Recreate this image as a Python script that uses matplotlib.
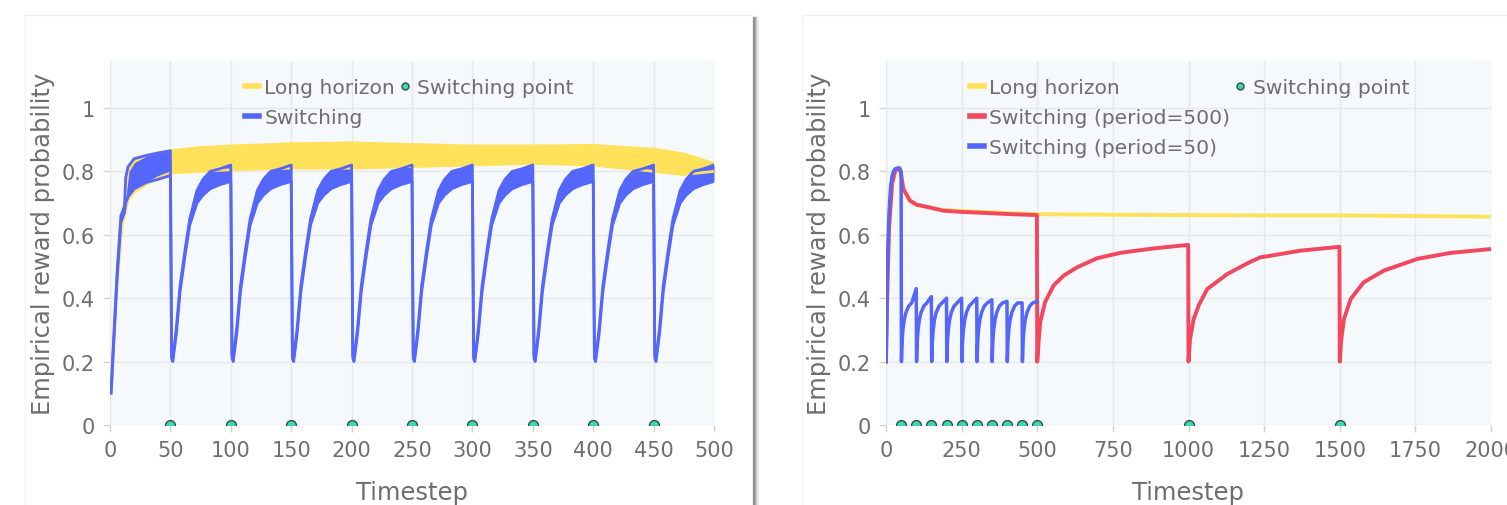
import numpy as np
import matplotlib
matplotlib.use("Agg")
import matplotlib.pyplot as plt
from matplotlib.lines import Line2D

plt.rcParams['font.family'] = ['DejaVu Sans']

# ---------------------------------------------------------------
# data
# ---------------------------------------------------------------

# left panel: horizon 500, switching every 50 steps
lh_t = [1, 5, 10, 12, 15, 20, 30, 40, 50, 75, 100, 150, 200, 250, 300, 350, 400, 450, 475, 500]
lh_lo = [0.10, 0.40, 0.63, 0.66, 0.71, 0.735, 0.76, 0.78, 0.795, 0.80, 0.805, 0.81, 0.81, 0.815, 0.82, 0.825, 0.82, 0.80, 0.79, 0.80]
lh_hi = [0.12, 0.42, 0.65, 0.70, 0.80, 0.83, 0.85, 0.86, 0.865, 0.875, 0.88, 0.887, 0.89, 0.885, 0.88, 0.88, 0.882, 0.87, 0.855, 0.825]

# first 50 steps of the switching agent
sw_first_t = [1, 3, 6, 9, 12, 13, 15, 20, 30, 40, 50]
sw_first_lo = [0.10, 0.25, 0.47, 0.64, 0.67, 0.70, 0.72, 0.745, 0.765, 0.775, 0.787]
sw_first_hi = [0.12, 0.27, 0.49, 0.66, 0.69, 0.78, 0.815, 0.84, 0.85, 0.858, 0.865]

# one recovery cycle after a switch (offset from the switch)
sw_cycle_off = [1, 2, 3, 5, 8, 12, 16, 22, 27, 33, 41, 50]
sw_cycle_lo = [0.21, 0.20, 0.23, 0.29, 0.42, 0.53, 0.63, 0.70, 0.725, 0.745, 0.758, 0.768]
sw_cycle_hi = [0.22, 0.21, 0.24, 0.31, 0.44, 0.55, 0.65, 0.74, 0.775, 0.80, 0.808, 0.82]
left_switches = [50, 100, 150, 200, 250, 300, 350, 400, 450]

# right panel: horizon 2000
r_lh_t = [0, 5, 10, 20, 30, 40, 45, 50, 57, 79, 100, 135, 189, 250, 300, 411, 500, 750, 1000, 1250, 1500, 1750, 2000]
r_lh_v = [0.20, 0.45, 0.62, 0.76, 0.80, 0.81, 0.81, 0.79, 0.745, 0.708, 0.695, 0.688, 0.678, 0.675, 0.673, 0.668, 0.665, 0.663, 0.662, 0.661, 0.661, 0.659, 0.657]

r_p500_t = [0, 5, 10, 20, 30, 40, 45, 50, 57, 79, 100, 135, 189, 250, 300, 411, 499,
            500, 505, 510, 526, 554, 587, 631, 698, 775, 885, 999,
            1000, 1005, 1017, 1035, 1062, 1128, 1205, 1238, 1272, 1371, 1499,
            1500, 1505, 1514, 1536, 1579, 1646, 1757, 1868, 2000]
r_p500_v = [0.20, 0.45, 0.62, 0.76, 0.80, 0.81, 0.81, 0.79, 0.745, 0.708, 0.695, 0.688, 0.676, 0.672, 0.670, 0.665, 0.662,
            0.20, 0.27, 0.325, 0.388, 0.44, 0.471, 0.497, 0.526, 0.543, 0.557, 0.568,
            0.20, 0.27, 0.334, 0.38, 0.429, 0.476, 0.515, 0.529, 0.534, 0.55, 0.562,
            0.20, 0.27, 0.334, 0.397, 0.45, 0.487, 0.524, 0.543, 0.555]

r_p50_first_t = [0, 3, 6, 10, 15, 20, 25, 30, 40, 45, 50]
r_p50_first_v = [0.20, 0.40, 0.55, 0.67, 0.75, 0.785, 0.80, 0.808, 0.81, 0.808, 0.80]
r_p50_cycle_off = [1, 3, 6, 10, 16, 25, 35, 50]
r_p50_cycle_v = [0.20, 0.26, 0.30, 0.33, 0.355, 0.375, 0.385, 0.395]
r_p50_peaks = [0.43, 0.405, 0.40, 0.40, 0.40, 0.395, 0.39, 0.385, 0.39]
r_p50_switches = [50, 100, 150, 200, 250, 300, 350, 400, 450]

right_switch_points = [50, 100, 150, 200, 250, 300, 350, 400, 450, 500, 1000, 1500]

y_ticks = [0, 0.2, 0.4, 0.6, 0.8, 1.0]
y_tick_labels = ['0', '0.2', '0.4', '0.6', '0.8', '1']
left_x_ticks = [0, 50, 100, 150, 200, 250, 300, 350, 400, 450, 500]
right_x_ticks = [0, 250, 500, 750, 1000, 1250, 1500, 1750, 2000]

# ---------------------------------------------------------------
# style
# ---------------------------------------------------------------
YELLOW = '#FFE15A'
BLUE = '#5566FA'
RED = '#F2475F'
TEAL = '#3ED6AE'
TXT = '#6e6e6e'
GRID = '#e6e9ec'
BG = '#f6f9fb'


def style_axes(ax, xmax, xticks):
    ax.set_facecolor(BG)
    ax.set_xlim(0, xmax)
    ax.set_ylim(0, 1.148)
    ax.set_xticks(xticks)
    ax.set_yticks(y_ticks)
    ax.set_yticklabels(y_tick_labels)
    ax.grid(True, color=GRID, lw=1)
    ax.set_axisbelow(True)
    for s in ax.spines.values():
        s.set_visible(False)
    ax.tick_params(colors='#d0d0d0', labelcolor=TXT, labelsize=15, length=5, width=1, pad=6)
    ax.set_xlabel('Timestep', fontsize=17.5, color=TXT, labelpad=14)
    ax.set_ylabel('Empirical reward probability', fontsize=17.5, color=TXT, labelpad=5)


def band(ax, t, lo, hi, color):
    ax.fill_between(t, lo, hi, color=color, lw=0)
    ax.plot(t, lo, color=color, lw=2)
    ax.plot(t, hi, color=color, lw=2)


fig = plt.figure(figsize=(15.07, 5.06), dpi=100)

legend_kw = dict(ncol=2, loc='upper left', frameon=False, fontsize=14.6, labelcolor=TXT,
                 handlelength=0.7, handletextpad=0.25, columnspacing=0.15,
                 labelspacing=0.55, borderpad=0, borderaxespad=0)

# ---- left panel ----
axL = fig.add_axes([110 / 1507, 80 / 506, 604 / 1507, 364 / 506])
style_axes(axL, 500, left_x_ticks)

band(axL, lh_t, lh_lo, lh_hi, YELLOW)

sw_t = list(sw_first_t)
sw_lo = list(sw_first_lo)
sw_hi = list(sw_first_hi)
for s in left_switches:
    sw_t += [s + o for o in sw_cycle_off]
    sw_lo += sw_cycle_lo
    sw_hi += sw_cycle_hi
band(axL, sw_t, sw_lo, sw_hi, BLUE)

axL.scatter(left_switches, [0] * len(left_switches), s=50, color=TEAL,
            edgecolor='#2f4f4f', lw=1, zorder=5)

hL = [Line2D([], [], color=YELLOW, lw=4),
      Line2D([], [], color=BLUE, lw=4),
      Line2D([], [], ls='', marker='o', ms=5, mfc=TEAL, mec='#2f4f4f', mew=1)]
axL.legend(hL, ['Long horizon', 'Switching', 'Switching point'],
           bbox_to_anchor=(0.2235, 0.953), **legend_kw)

# ---- right panel ----
axR = fig.add_axes([886 / 1507, 80 / 506, 605 / 1507, 364 / 506])
style_axes(axR, 2000, right_x_ticks)

axR.plot(r_lh_t, r_lh_v, color=YELLOW, lw=2.8)
axR.plot(r_p500_t, r_p500_v, color=RED, lw=2.8)

p50_t = list(r_p50_first_t)
p50_v = list(r_p50_first_v)
for s, pk in zip(r_p50_switches, r_p50_peaks):
    p50_t += [s + o for o in r_p50_cycle_off]
    p50_v += r_p50_cycle_v[:-1] + [pk]
axR.plot(p50_t, p50_v, color=BLUE, lw=2.5)

axR.scatter(right_switch_points, [0] * len(right_switch_points), s=50, color=TEAL,
            edgecolor='#2f4f4f', lw=1, zorder=5)

blank = Line2D([], [], ls='', marker='')
hR = [Line2D([], [], color=YELLOW, lw=4),
      Line2D([], [], color=RED, lw=4),
      Line2D([], [], color=BLUE, lw=4),
      Line2D([], [], ls='', marker='o', ms=5, mfc=TEAL, mec='#2f4f4f', mew=1),
      blank, blank]
axR.legend(hR, ['Long horizon', 'Switching (period=500)', 'Switching (period=50)',
                'Switching point', '', ''],
           bbox_to_anchor=(0.139, 0.953), **legend_kw)

# ---- panel borders and shadow between the two cards ----
H = 506.0
W = 1507.0
fig.add_artist(Line2D([25 / W, 752 / W], [1 - 16 / H, 1 - 16 / H], color='#f0f0f0', lw=1))
fig.add_artist(Line2D([25 / W, 25 / W], [0, 1 - 16 / H], color='#f4f4f4', lw=1))
fig.add_artist(Line2D([802 / W, 1.0], [1 - 16 / H, 1 - 16 / H], color='#f0f0f0', lw=1))
fig.add_artist(Line2D([802 / W, 802 / W], [0, 1 - 16 / H], color='#f4f4f4', lw=1))
for dx, c in [(753, '#9a9a9a'), (754, '#888888'), (755, '#a8a8a8'), (756, '#c8c8c8'),
              (757, '#dedede'), (758, '#eeeeee')]:
    fig.add_artist(Line2D([dx / W, dx / W], [0, 1 - 18 / H], color=c, lw=1))

fig.savefig('out.png', dpi=100)
